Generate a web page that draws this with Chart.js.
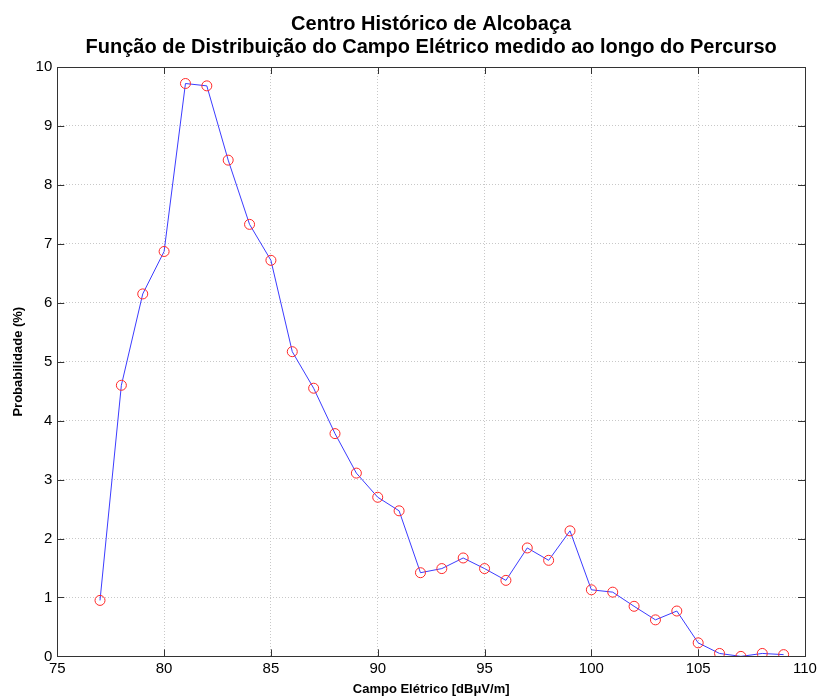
<!DOCTYPE html>
<html>
<head>
<meta charset="utf-8">
<script src="https://cdn.jsdelivr.net/npm/chart.js@4/dist/chart.umd.min.js"></script>
<style>
  body { margin: 0; background: #fff; }
  #wrap { width: 822px; height: 699px; }
</style>
</head>
<body>
<div id="wrap"><canvas id="pdfChart"></canvas></div>
<script>
const campo = [77, 78, 79, 80, 81, 82, 83, 84, 85, 86, 87, 88, 89, 90, 91, 92, 93,
  94, 95, 96, 97, 98, 99, 100, 101, 102, 103, 104, 105, 106, 107, 108, 109];
const probabilidade = [0.95, 4.60, 6.15, 6.87, 9.72, 9.68, 8.42, 7.33, 6.72, 5.17, 4.55,
  3.78, 3.11, 2.70, 2.47, 1.42, 1.49, 1.67, 1.49, 1.29, 1.84, 1.63, 2.13, 1.13, 1.09,
  0.85, 0.62, 0.77, 0.23, 0.05, 0.0, 0.05, 0.03];
const titleLines = ["Centro Histórico de Alcobaça",
  "Função de Distribuição do Campo Elétrico medido ao longo do Percurso"];

const points = campo.map((x, i) => ({ x: x, y: probabilidade[i] }));

// MATLAB-style frame with inward ticks, title centred over the axes box
const framePlugin = {
  id: "frame",
  afterDraw(chart) {
    const ctx = chart.ctx;
    const a = chart.chartArea;
    const xs = chart.scales.x, ys = chart.scales.y;
    ctx.save();
    ctx.strokeStyle = "#333";
    ctx.lineWidth = 1;
    ctx.beginPath();
    xs.ticks.forEach(t => {
      const px = Math.round(xs.getPixelForValue(t.value)) + 0.5;
      ctx.moveTo(px, a.bottom); ctx.lineTo(px, a.bottom - 7);
      ctx.moveTo(px, a.top); ctx.lineTo(px, a.top + 7);
    });
    ys.ticks.forEach(t => {
      const py = Math.round(ys.getPixelForValue(t.value)) + 0.5;
      ctx.moveTo(a.left, py); ctx.lineTo(a.left + 7, py);
      ctx.moveTo(a.right, py); ctx.lineTo(a.right - 7, py);
    });
    ctx.stroke();
    ctx.strokeRect(Math.round(a.left) + 0.5, Math.round(a.top) + 0.5,
      Math.round(a.right - a.left), Math.round(a.bottom - a.top));

    ctx.fillStyle = "#000";
    ctx.font = "bold 20px 'Liberation Sans', Arial";
    ctx.textAlign = "center";
    ctx.textBaseline = "alphabetic";
    const cx = (a.left + a.right) / 2;
    titleLines.forEach((line, i) => ctx.fillText(line, cx, a.top - 37 + i * 23));
    ctx.restore();
  }
};

new Chart(document.getElementById("pdfChart"), {
  type: "scatter",
  data: {
    datasets: [{
      data: points,
      showLine: true,
      borderColor: "rgb(60, 60, 255)",
      borderWidth: 1,
      pointStyle: "circle",
      pointRadius: 5,
      pointBorderColor: "rgb(255, 40, 40)",
      pointBackgroundColor: "rgba(0,0,0,0)",
      pointBorderWidth: 1,
    }],
  },
  options: {
    responsive: true,
    maintainAspectRatio: false,
    animation: false,
    layout: { padding: { left: 11, right: 17, top: 67, bottom: 2 } },
    plugins: {
      legend: { display: false },
      tooltip: { enabled: false },
      title: { display: false },
    },
    scales: {
      x: {
        type: "linear",
        min: 75,
        max: 110,
        ticks: { stepSize: 5, color: "#000", padding: 3,
          font: { family: "Liberation Sans, Arial", size: 15 } },
        grid: { color: "#c8c8c8", drawTicks: false },
        border: { display: false, dash: [1, 2] },
        title: { display: true, text: "Campo Elétrico [dBμV/m]", color: "#000", padding: { top: 1, bottom: 0 },
          font: { family: "Liberation Sans, Arial", size: 13, weight: "bold" } },
      },
      y: {
        min: 0,
        max: 10,
        ticks: { stepSize: 1, color: "#000", padding: 5,
          font: { family: "Liberation Sans, Arial", size: 15 } },
        grid: { color: "#c8c8c8", drawTicks: false },
        border: { display: false, dash: [1, 2] },
        title: { display: true, text: "Probabilidade (%)", color: "#000", padding: { top: 0, bottom: 4 },
          font: { family: "Liberation Sans, Arial", size: 13, weight: "bold" } },
      },
    },
  },
  plugins: [framePlugin],
});
</script>
</body>
</html>
